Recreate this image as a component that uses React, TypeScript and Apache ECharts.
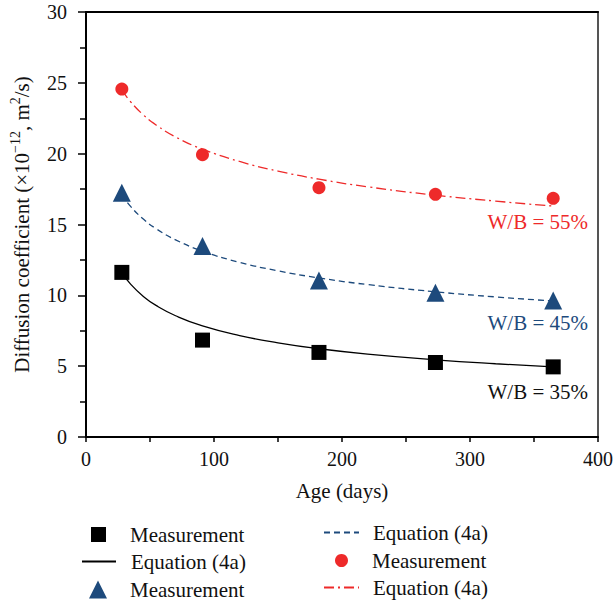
import React, { useEffect, useRef } from "react";
import * as echarts from "echarts";

const ages = [28, 91, 182, 273, 365];
const meas35 = [11.62, 6.84, 5.97, 5.26, 4.95];
const meas45 = [17.25, 13.48, 11.04, 10.19, 9.63];
const meas55 = [24.56, 19.93, 17.6, 17.13, 16.85];

const curveAges = [28, 35, 45, 55, 70, 91, 120, 150, 182, 220, 273, 320, 365];
const eq35 = [11.6, 10.77, 9.91, 9.27, 8.56, 7.84, 7.16, 6.65, 6.23, 5.85, 5.45, 5.17, 4.95];
const eq45 = [17.1, 16.26, 15.37, 14.69, 13.92, 13.12, 12.33, 11.73, 11.23, 10.76, 10.25, 9.89, 9.6];
const eq55 = [24.5, 23.65, 22.72, 22.01, 21.18, 20.32, 19.45, 18.77, 18.2, 17.66, 17.07, 16.65, 16.3];

const groupLabels = ["W/B = 35%", "W/B = 45%", "W/B = 55%"];

const FONT = "Liberation Serif";
const BLACK = "#000000";
const BLUE = "#1d4a7c";
const RED = "#ee2a2a";
const CLEAR = "rgba(0,0,0,0)";

const pairs = (xs: number[], ys: number[]) => xs.map((x, i) => [x, ys[i]]);

export default function App() {
  const ref = useRef<HTMLDivElement>(null);
  useEffect(() => {
    if (!ref.current) return;
    const chart = echarts.init(ref.current, null, { renderer: "svg" });
    const tick = { fontFamily: FONT, fontSize: 20, color: "#111" };
    const txt = { fontFamily: FONT, fontSize: 21, color: "#111" };
    const mkLegend = (name: string, left: number, cy: number, w: number, h: number, pad: number) => ({
      data: [name],
      left,
      top: cy - 11,
      padding: 0,
      itemWidth: w,
      itemHeight: h,
      selectedMode: false,
      formatter: (n: string) => n.split("|")[0],
      textStyle: { ...txt, padding: [0, 0, 0, pad] },
    });
    chart.setOption({
      animation: false,
      backgroundColor: "#ffffff",
      grid: { left: 81, right: 14, top: 12, bottom: 169, containLabel: false },
      xAxis: [
        {
          type: "value",
          min: 0,
          max: 400,
          interval: 100,
          name: "Age (days)",
          nameLocation: "middle",
          nameGap: 43,
          nameTextStyle: txt,
          axisLine: { show: true, onZero: false, lineStyle: { color: BLACK, width: 2 } },
          axisTick: { show: true, inside: false, length: 5, lineStyle: { color: BLACK, width: 1.5 } },
          minorTick: { show: true, splitNumber: 2, length: 5, lineStyle: { color: BLACK, width: 1.5 } },
          axisLabel: { ...tick, margin: 12 },
          splitLine: { show: false },
        },
        {
          type: "value",
          position: "top",
          min: 0,
          max: 400,
          axisLine: { show: true, onZero: false, lineStyle: { color: BLACK, width: 2 } },
          axisTick: { show: false },
          axisLabel: { show: false },
          splitLine: { show: false },
        },
      ],
      yAxis: [
        {
          type: "value",
          min: 0,
          max: 30,
          interval: 5,
          name: "{a|Diffusion coefficient (×10}{s|−12}{a|, m}{s|2}{a|/s)}",
          nameLocation: "middle",
          nameGap: 50,
          nameTextStyle: {
            ...txt,
            rich: {
              a: { fontFamily: FONT, fontSize: 21, color: "#111" },
              s: { fontFamily: FONT, fontSize: 14, color: "#111", padding: [0, 0, 14, 0] },
            },
          },
          axisLine: { show: true, onZero: false, lineStyle: { color: BLACK, width: 2 } },
          axisTick: { show: true, inside: false, length: 8, lineStyle: { color: BLACK, width: 1.5 } },
          minorTick: { show: true, splitNumber: 2, length: 6, lineStyle: { color: BLACK, width: 1.5 } },
          axisLabel: { ...tick, margin: 19 },
          splitLine: { show: false },
        },
        {
          type: "value",
          position: "right",
          min: 0,
          max: 30,
          axisLine: { show: true, onZero: false, lineStyle: { color: "#555555", width: 2 } },
          axisTick: { show: false },
          axisLabel: { show: false },
          splitLine: { show: false },
        },
      ],
      legend: [
        mkLegend("Measurement|35", 91, 535, 15, 15, 19),
        mkLegend("Equation (4a)|35", 81, 562, 34, 14, 10),
        mkLegend("Measurement|45", 89, 590, 18, 18, 18),
        mkLegend("Equation (4a)|45", 323, 533, 35, 14, 9),
        mkLegend("Measurement|55", 335, 561, 13, 13, 19),
        mkLegend("Equation (4a)|55", 323, 588, 35, 14, 9),
      ],
      series: [
        {
          name: "Equation (4a)|35",
          type: "line",
          smooth: true,
          symbol: "none",
          data: pairs(curveAges, eq35),
          lineStyle: { color: BLACK, width: 1.3, type: "solid" },
          itemStyle: { color: CLEAR, borderWidth: 0 },
          z: 2,
        },
        {
          name: "Equation (4a)|45",
          type: "line",
          smooth: true,
          symbol: "none",
          data: pairs(curveAges, eq45),
          lineStyle: { color: BLUE, width: 1.3, type: [6, 4] },
          itemStyle: { color: CLEAR, borderWidth: 0 },
          z: 2,
        },
        {
          name: "Equation (4a)|55",
          type: "line",
          smooth: true,
          symbol: "none",
          data: pairs(curveAges, eq55),
          lineStyle: { color: RED, width: 1.3, type: [10, 4, 2, 4] },
          itemStyle: { color: CLEAR, borderWidth: 0 },
          z: 2,
        },
        {
          name: "Measurement|35",
          type: "scatter",
          symbol: "rect",
          symbolSize: 15,
          data: pairs(ages, meas35),
          itemStyle: { color: BLACK, opacity: 1 },
          z: 5,
        },
        {
          name: "Measurement|45",
          type: "scatter",
          symbol: "triangle",
          symbolSize: 18,
          data: pairs(ages, meas45),
          itemStyle: { color: BLUE, opacity: 1 },
          z: 5,
        },
        {
          name: "Measurement|55",
          type: "scatter",
          symbol: "circle",
          symbolSize: 13,
          data: pairs(ages, meas55),
          itemStyle: { color: RED, opacity: 1 },
          z: 5,
        },
      ],
      graphic: [
        { type: "text", right: 28, top: 381, style: { text: groupLabels[0], fontFamily: FONT, fontSize: 21, fill: "#111" } },
        { type: "text", right: 28, top: 312, style: { text: groupLabels[1], fontFamily: FONT, fontSize: 21, fill: BLUE } },
        { type: "text", right: 28, top: 211, style: { text: groupLabels[2], fontFamily: FONT, fontSize: 21, fill: RED } },
      ],
    });
    return () => chart.dispose();
  }, []);
  return (
    <div
      ref={ref}
      style={{ position: "absolute", left: 0, top: 0, width: 616, height: 606 }}
    />
  );
}
